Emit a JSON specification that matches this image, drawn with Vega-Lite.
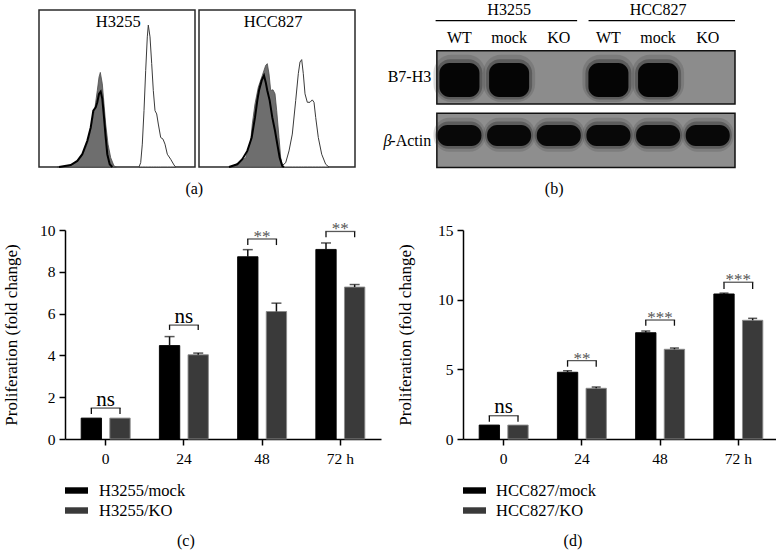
{
  "$schema": "https://vega.github.io/schema/vega-lite/v6.json",
  "autosize": {"type": "pad"},
  "padding": {"left": 1, "top": 2, "right": 0, "bottom": 0},
  "background": "white",
  "bounds": "flush",
  "spacing": 220,
  "datasets": {
    "hist": [
      {"cell":"H3255","s":"WT","f":100,"n":0},{"cell":"H3255","s":"WT","f":101.7,"n":4.3},{"cell":"H3255","s":"WT","f":103.3,"n":22.7},{"cell":"H3255","s":"WT","f":105,"n":56},{"cell":"H3255","s":"WT","f":106.7,"n":96},{"cell":"H3255","s":"WT","f":108.3,"n":129.3},{"cell":"H3255","s":"WT","f":109.3,"n":141},{"cell":"H3255","s":"WT","f":111,"n":129.3},{"cell":"H3255","s":"WT","f":112.7,"n":102.7},{"cell":"H3255","s":"WT","f":114.3,"n":76},{"cell":"H3255","s":"WT","f":116,"n":56},{"cell":"H3255","s":"WT","f":117.7,"n":52.7},{"cell":"H3255","s":"WT","f":119.3,"n":42.7},{"cell":"H3255","s":"WT","f":121.7,"n":29.3},{"cell":"H3255","s":"WT","f":124,"n":27.7},{"cell":"H3255","s":"WT","f":126,"n":22.7},{"cell":"H3255","s":"WT","f":128.3,"n":12.7},{"cell":"H3255","s":"WT","f":131.7,"n":7.7},{"cell":"H3255","s":"WT","f":135,"n":2},{"cell":"H3255","s":"WT","f":136.7,"n":0},
      {"cell":"H3255","s":"iso","f":18,"n":0},{"cell":"H3255","s":"iso","f":30,"n":1},{"cell":"H3255","s":"iso","f":36.7,"n":4.3},{"cell":"H3255","s":"iso","f":41.7,"n":9.3},{"cell":"H3255","s":"iso","f":46.7,"n":19.3},{"cell":"H3255","s":"iso","f":50,"n":29.3},{"cell":"H3255","s":"iso","f":53.3,"n":46},{"cell":"H3255","s":"iso","f":56,"n":59.3},{"cell":"H3255","s":"iso","f":58.3,"n":76},{"cell":"H3255","s":"iso","f":60,"n":89.3},{"cell":"H3255","s":"iso","f":61.3,"n":94},{"cell":"H3255","s":"iso","f":63.3,"n":82.7},{"cell":"H3255","s":"iso","f":65,"n":62.7},{"cell":"H3255","s":"iso","f":66.7,"n":42.7},{"cell":"H3255","s":"iso","f":69,"n":22.7},{"cell":"H3255","s":"iso","f":71.7,"n":9.3},{"cell":"H3255","s":"iso","f":75,"n":1},{"cell":"H3255","s":"iso","f":77.3,"n":0},
      {"cell":"H3255","s":"KO","f":20,"n":0},{"cell":"H3255","s":"KO","f":31.7,"n":2},{"cell":"H3255","s":"KO","f":38.3,"n":6},{"cell":"H3255","s":"KO","f":43.3,"n":12.7},{"cell":"H3255","s":"KO","f":48.3,"n":26},{"cell":"H3255","s":"KO","f":51.7,"n":39.3},{"cell":"H3255","s":"KO","f":54.3,"n":56},{"cell":"H3255","s":"KO","f":56.7,"n":59.3},{"cell":"H3255","s":"KO","f":58.3,"n":64.3},{"cell":"H3255","s":"KO","f":60,"n":72.7},{"cell":"H3255","s":"KO","f":61.7,"n":75},{"cell":"H3255","s":"KO","f":63.3,"n":67.7},{"cell":"H3255","s":"KO","f":65,"n":49.3},{"cell":"H3255","s":"KO","f":66.7,"n":29.3},{"cell":"H3255","s":"KO","f":68.3,"n":12.7},{"cell":"H3255","s":"KO","f":70.7,"n":2.7},{"cell":"H3255","s":"KO","f":73.3,"n":0},
      {"cell":"HCC827","s":"WT","f":81.7,"n":0},{"cell":"HCC827","s":"WT","f":86.7,"n":4.3},{"cell":"HCC827","s":"WT","f":90,"n":16},{"cell":"HCC827","s":"WT","f":93.3,"n":32.7},{"cell":"HCC827","s":"WT","f":96.7,"n":66},{"cell":"HCC827","s":"WT","f":99.3,"n":92.7},{"cell":"HCC827","s":"WT","f":101,"n":104.3},{"cell":"HCC827","s":"WT","f":102.7,"n":106.7},{"cell":"HCC827","s":"WT","f":104.3,"n":92.7},{"cell":"HCC827","s":"WT","f":106,"n":72.7},{"cell":"HCC827","s":"WT","f":108.3,"n":64.3},{"cell":"HCC827","s":"WT","f":111,"n":64.3},{"cell":"HCC827","s":"WT","f":113.3,"n":66.7},{"cell":"HCC827","s":"WT","f":115,"n":64.3},{"cell":"HCC827","s":"WT","f":116.7,"n":49.3},{"cell":"HCC827","s":"WT","f":119.3,"n":29.3},{"cell":"HCC827","s":"WT","f":122.7,"n":12.7},{"cell":"HCC827","s":"WT","f":126.7,"n":2.7},{"cell":"HCC827","s":"WT","f":130,"n":0},
      {"cell":"HCC827","s":"iso","f":31.7,"n":0},{"cell":"HCC827","s":"iso","f":40,"n":4.3},{"cell":"HCC827","s":"iso","f":46.7,"n":9.3},{"cell":"HCC827","s":"iso","f":51.7,"n":26},{"cell":"HCC827","s":"iso","f":53.3,"n":42.7},{"cell":"HCC827","s":"iso","f":56,"n":62.7},{"cell":"HCC827","s":"iso","f":59.3,"n":79.3},{"cell":"HCC827","s":"iso","f":63.3,"n":91},{"cell":"HCC827","s":"iso","f":66.7,"n":101},{"cell":"HCC827","s":"iso","f":68.3,"n":102.7},{"cell":"HCC827","s":"iso","f":70,"n":92.7},{"cell":"HCC827","s":"iso","f":71.7,"n":76},{"cell":"HCC827","s":"iso","f":74,"n":76.7},{"cell":"HCC827","s":"iso","f":76,"n":72.7},{"cell":"HCC827","s":"iso","f":77.7,"n":56},{"cell":"HCC827","s":"iso","f":80,"n":29.3},{"cell":"HCC827","s":"iso","f":81.7,"n":9.3},{"cell":"HCC827","s":"iso","f":83.3,"n":2},{"cell":"HCC827","s":"iso","f":85,"n":0},
      {"cell":"HCC827","s":"KO","f":30,"n":0},{"cell":"HCC827","s":"KO","f":38.3,"n":2.7},{"cell":"HCC827","s":"KO","f":43.3,"n":7.7},{"cell":"HCC827","s":"KO","f":48.3,"n":16},{"cell":"HCC827","s":"KO","f":52.7,"n":29.3},{"cell":"HCC827","s":"KO","f":56,"n":49.3},{"cell":"HCC827","s":"KO","f":58.3,"n":66},{"cell":"HCC827","s":"KO","f":60,"n":76},{"cell":"HCC827","s":"KO","f":62.7,"n":86},{"cell":"HCC827","s":"KO","f":65,"n":91},{"cell":"HCC827","s":"KO","f":66.7,"n":84.3},{"cell":"HCC827","s":"KO","f":68.3,"n":76},{"cell":"HCC827","s":"KO","f":70.7,"n":66},{"cell":"HCC827","s":"KO","f":73.3,"n":49.3},{"cell":"HCC827","s":"KO","f":76,"n":36},{"cell":"HCC827","s":"KO","f":78.3,"n":22.7},{"cell":"HCC827","s":"KO","f":80.7,"n":9.3},{"cell":"HCC827","s":"KO","f":83.3,"n":1},{"cell":"HCC827","s":"KO","f":85,"n":0}
    ],
    "lanes": [
      {"lane":1,"cell":"H3255","sample":"WT","b7h3":1,"actin":1},
      {"lane":2,"cell":"H3255","sample":"mock","b7h3":1,"actin":1},
      {"lane":3,"cell":"H3255","sample":"KO","b7h3":0,"actin":1},
      {"lane":4,"cell":"HCC827","sample":"WT","b7h3":1,"actin":1},
      {"lane":5,"cell":"HCC827","sample":"mock","b7h3":1,"actin":1},
      {"lane":6,"cell":"HCC827","sample":"KO","b7h3":0,"actin":1}
    ],
    "c": [
      {"time":"0","group":"H3255/mock","value":1.0,"upper":1.0,"btop":1.48,"bbot":1.2,"sig":"ns"},
      {"time":"0","group":"H3255/KO","value":1.0,"upper":1.0,"btop":1.48,"bbot":1.2,"sig":"ns"},
      {"time":"24","group":"H3255/mock","value":4.47,"upper":4.9,"btop":5.45,"bbot":5.22,"sig":"ns"},
      {"time":"24","group":"H3255/KO","value":4.03,"upper":4.11,"btop":5.45,"bbot":5.22,"sig":"ns"},
      {"time":"48","group":"H3255/mock","value":8.72,"upper":9.06,"btop":9.57,"bbot":9.28,"sig":"**"},
      {"time":"48","group":"H3255/KO","value":6.1,"upper":6.5,"btop":9.57,"bbot":9.28,"sig":"**"},
      {"time":"72 h","group":"H3255/mock","value":9.07,"upper":9.38,"btop":9.93,"bbot":9.65,"sig":"**"},
      {"time":"72 h","group":"H3255/KO","value":7.27,"upper":7.39,"btop":9.93,"bbot":9.65,"sig":"**"}
    ],
    "d": [
      {"time":"0","group":"HCC827/mock","value":1.0,"upper":1.0,"btop":1.67,"bbot":1.24,"sig":"ns"},
      {"time":"0","group":"HCC827/KO","value":1.0,"upper":1.0,"btop":1.67,"bbot":1.24,"sig":"ns"},
      {"time":"24","group":"HCC827/mock","value":4.79,"upper":4.9,"btop":5.62,"bbot":5.19,"sig":"**"},
      {"time":"24","group":"HCC827/KO","value":3.64,"upper":3.73,"btop":5.62,"bbot":5.19,"sig":"**"},
      {"time":"48","group":"HCC827/mock","value":7.63,"upper":7.75,"btop":8.54,"bbot":8.13,"sig":"***"},
      {"time":"48","group":"HCC827/KO","value":6.44,"upper":6.53,"btop":8.54,"bbot":8.13,"sig":"***"},
      {"time":"72 h","group":"HCC827/mock","value":10.41,"upper":10.47,"btop":11.25,"bbot":10.77,"sig":"***"},
      {"time":"72 h","group":"HCC827/KO","value":8.52,"upper":8.66,"btop":11.25,"bbot":10.77,"sig":"***"}
    ]
  },
  "vconcat": [
    {
      "hconcat": [
        {
          "width": 156, "height": 157,
          "view": {"stroke": "#2a2a2a", "strokeWidth": 1.5},
          "data": {"name": "hist"},
          "layer": [
            {"transform": [{"filter": "datum.cell == 'H3255' && datum.s == 'WT'"}], "mark": {"type": "area", "fill": "white", "stroke": "#3a3a3a", "strokeWidth": 1},
             "encoding": {"x": {"field": "f", "type": "quantitative", "scale": {"domain": [0, 156], "nice": false, "zero": false}, "axis": null},
                          "y": {"field": "n", "type": "quantitative", "scale": {"domain": [0, 156], "nice": false}, "axis": null}}},
            {"transform": [{"filter": "datum.cell == 'H3255' && datum.s == 'iso'"}], "mark": {"type": "area", "fill": "#6e6e6e", "stroke": "#4a4a4a", "strokeWidth": 0.8},
             "encoding": {"x": {"field": "f", "type": "quantitative"}, "y": {"field": "n", "type": "quantitative"}}},
            {"transform": [{"filter": "datum.cell == 'H3255' && datum.s == 'KO'"}], "mark": {"type": "line", "color": "#000", "strokeWidth": 2},
             "encoding": {"x": {"field": "f", "type": "quantitative"}, "y": {"field": "n", "type": "quantitative"}}},
            {"data": {"values": [{"label": "H3255"}]}, "mark": {"type": "text", "fontSize": 16.5, "baseline": "alphabetic", "align": "center"},
             "encoding": {"x": {"datum": 79.2, "type": "quantitative"}, "y": {"datum": 139.4, "type": "quantitative"}, "text": {"field": "label"}}},
            {"data": {"values": [{"label": "(a)"}]}, "mark": {"type": "text", "fontSize": 16, "baseline": "alphabetic", "align": "center"},
             "encoding": {"x": {"datum": 155.3, "type": "quantitative"}, "y": {"datum": -27.3, "type": "quantitative"}, "text": {"field": "label"}}}
          ]
        },
        {
          "width": 156, "height": 157,
          "view": {"stroke": "#2a2a2a", "strokeWidth": 1.5},
          "data": {"name": "hist"},
          "layer": [
            {"transform": [{"filter": "datum.cell == 'HCC827' && datum.s == 'WT'"}], "mark": {"type": "area", "fill": "white", "stroke": "#3a3a3a", "strokeWidth": 1},
             "encoding": {"x": {"field": "f", "type": "quantitative", "scale": {"domain": [0, 156], "nice": false, "zero": false}, "axis": null},
                          "y": {"field": "n", "type": "quantitative", "scale": {"domain": [0, 156], "nice": false}, "axis": null}}},
            {"transform": [{"filter": "datum.cell == 'HCC827' && datum.s == 'iso'"}], "mark": {"type": "area", "fill": "#6e6e6e", "stroke": "#4a4a4a", "strokeWidth": 0.8},
             "encoding": {"x": {"field": "f", "type": "quantitative"}, "y": {"field": "n", "type": "quantitative"}}},
            {"transform": [{"filter": "datum.cell == 'HCC827' && datum.s == 'KO'"}], "mark": {"type": "line", "color": "#000", "strokeWidth": 2},
             "encoding": {"x": {"field": "f", "type": "quantitative"}, "y": {"field": "n", "type": "quantitative"}}},
            {"data": {"values": [{"label": "HCC827"}]}, "mark": {"type": "text", "fontSize": 16.5, "baseline": "alphabetic", "align": "center"},
             "encoding": {"x": {"datum": 74.2, "type": "quantitative"}, "y": {"datum": 139.4, "type": "quantitative"}, "text": {"field": "label"}}}
          ]
        },
        {
          "width": 381, "height": 157,
          "data": {"name": "lanes"},
          "layer": [
            {"data": {"values": [{"blot": "B7-H3"}]}, "mark": {"type": "rect", "fill": "#8c8c8c", "stroke": "#111", "strokeWidth": 1.5},
             "encoding": {"x": {"datum": 0.545, "type": "quantitative", "scale": {"domain": [-0.922, 6.549], "nice": false, "zero": false}, "axis": null}, "x2": {"datum": 6.549},
                          "y": {"datum": 0.575, "type": "quantitative", "scale": {"domain": [-0.0714, 2.4206], "nice": false, "zero": false, "reverse": true}, "axis": null}, "y2": {"datum": 1.421}}},
            {"data": {"values": [{"blot": "actin"}]}, "mark": {"type": "rect", "fill": "#8e8e8e", "stroke": "#111", "strokeWidth": 1.5},
             "encoding": {"x": {"datum": 0.545, "type": "quantitative"}, "x2": {"datum": 6.549}, "y": {"datum": 1.568, "type": "quantitative"}, "y2": {"datum": 2.43}}},
            {"transform": [{"filter": "datum.b7h3 > 0"}], "mark": {"type": "bar", "width": 52, "cornerRadius": 18, "fill": "#333", "opacity": 0.18},
             "encoding": {"x": {"field": "lane", "type": "quantitative"}, "y": {"datum": 0.64, "type": "quantitative"}, "y2": {"datum": 1.39}}},
            {"transform": [{"filter": "datum.b7h3 > 0"}], "mark": {"type": "bar", "width": 46, "cornerRadius": 14, "fill": "#222", "opacity": 0.35},
             "encoding": {"x": {"field": "lane", "type": "quantitative"}, "y": {"datum": 0.71, "type": "quantitative"}, "y2": {"datum": 1.35}}},
            {"transform": [{"filter": "datum.b7h3 > 0"}], "mark": {"type": "bar", "width": 40, "cornerRadius": 10, "fill": "#050505"},
             "encoding": {"x": {"field": "lane", "type": "quantitative"}, "y": {"datum": 0.77, "type": "quantitative"}, "y2": {"datum": 1.31}}},
            {"transform": [{"filter": "datum.actin > 0"}], "mark": {"type": "bar", "width": 52, "cornerRadius": 16, "fill": "#333", "opacity": 0.18},
             "encoding": {"x": {"field": "lane", "type": "quantitative"}, "y": {"datum": 1.64, "type": "quantitative"}, "y2": {"datum": 2.18}}},
            {"transform": [{"filter": "datum.actin > 0"}], "mark": {"type": "bar", "width": 48, "cornerRadius": 13, "fill": "#222", "opacity": 0.35},
             "encoding": {"x": {"field": "lane", "type": "quantitative"}, "y": {"datum": 1.7, "type": "quantitative"}, "y2": {"datum": 2.13}}},
            {"transform": [{"filter": "datum.actin > 0"}], "mark": {"type": "bar", "width": 44, "cornerRadius": 10, "fill": "#080808"},
             "encoding": {"x": {"field": "lane", "type": "quantitative"}, "y": {"datum": 1.754, "type": "quantitative"}, "y2": {"datum": 2.087}}},
            {"mark": {"type": "text", "fontSize": 16, "baseline": "alphabetic", "align": "center"},
             "encoding": {"x": {"field": "lane", "type": "quantitative"}, "y": {"datum": 0.457, "type": "quantitative"}, "text": {"field": "sample"}}},
            {"transform": [{"filter": "datum.sample == 'mock'"}], "mark": {"type": "text", "fontSize": 16, "baseline": "alphabetic", "align": "center"},
             "encoding": {"x": {"field": "lane", "type": "quantitative"}, "y": {"datum": 0.011, "type": "quantitative"}, "text": {"field": "cell"}}},
            {"data": {"values": [{"cell": "H3255"}]}, "mark": {"type": "rule", "color": "#000", "strokeWidth": 1.2},
             "encoding": {"x": {"datum": 0.52, "type": "quantitative"}, "x2": {"datum": 3.37}, "y": {"datum": 0.0984, "type": "quantitative"}}},
            {"data": {"values": [{"cell": "HCC827"}]}, "mark": {"type": "rule", "color": "#000", "strokeWidth": 1.2},
             "encoding": {"x": {"datum": 3.6, "type": "quantitative"}, "x2": {"datum": 6.549}, "y": {"datum": 0.0984, "type": "quantitative"}}},
            {"data": {"values": [{"label": "B7-H3"}]}, "mark": {"type": "text", "fontSize": 16, "baseline": "alphabetic", "align": "right"},
             "encoding": {"x": {"datum": 0.431, "type": "quantitative"}, "y": {"datum": 1.067, "type": "quantitative"}, "text": {"field": "label"}}},
            {"data": {"values": [{"label": "-Actin"}]}, "mark": {"type": "text", "fontSize": 16, "baseline": "alphabetic", "align": "right"},
             "encoding": {"x": {"datum": 0.431, "type": "quantitative"}, "y": {"datum": 2.087, "type": "quantitative"}, "text": {"field": "label"}}},
            {"data": {"values": [{"label": "β"}]}, "mark": {"type": "text", "fontSize": 16, "fontStyle": "italic", "baseline": "alphabetic", "align": "right"},
             "encoding": {"x": {"datum": -0.371, "type": "quantitative"}, "y": {"datum": 2.087, "type": "quantitative"}, "text": {"field": "label"}}},
            {"data": {"values": [{"label": "(b)"}]}, "mark": {"type": "text", "fontSize": 16, "baseline": "alphabetic", "align": "center"},
             "encoding": {"x": {"datum": 2.908, "type": "quantitative"}, "y": {"datum": 2.857, "type": "quantitative"}, "text": {"field": "label"}}}
          ]
        }
      ],
      "spacing": 4,
      "bounds": "flush",
      "resolve": {"scale": {"x": "independent", "y": "independent"}}
    },
    {
      "hconcat": [
        {"width": 22, "height": 209, "data": {"values": [{}]}, "mark": {"type": "rule", "opacity": 0}, "encoding": {}},
        {
          "width": 316, "height": 209,
          "data": {"name": "c"},
          "layer": [
            {"mark": {"type": "bar", "strokeWidth": 0.9},
             "encoding": {
               "x": {"field": "time", "type": "nominal", "sort": null,
                     "scale": {"domain": ["0", "24", "48", "72 h"], "paddingInner": 0, "paddingOuter": 0.02},
                     "axis": {"title": null, "labelAngle": 0, "labelFontSize": 15.5, "tickSize": 6, "tickWidth": 1.5, "domainWidth": 1.5, "labelPadding": 6}},
               "xOffset": {"field": "group", "type": "nominal", "scale": {"domain": ["H3255/mock", "H3255/KO"], "paddingInner": 0.29, "paddingOuter": 0.51}},
               "y": {"field": "value", "type": "quantitative",
                     "scale": {"domain": [0, 10], "nice": false},
                     "axis": {"title": "Proliferation (fold change)", "values": [0, 2, 4, 6, 8, 10], "titleFontSize": 17, "titleFontWeight": "normal", "titleX": -45, "labelFontSize": 15.5, "tickSize": 6, "tickWidth": 1.5, "domainWidth": 1.5, "labelPadding": 4}},
               "color": {"field": "group", "type": "nominal", "scale": {"domain": ["H3255/mock", "H3255/KO"], "range": ["#000000", "#3a3a3a"]},
                         "legend": {"orient": "none", "legendX": 0, "legendY": 249, "title": null, "symbolType": "M-1,-0.28H1V0.28H-1Z", "symbolSize": 529, "symbolStrokeWidth": 0, "labelFontSize": 16.5, "labelOffset": 11, "rowPadding": -2, "padding": 0}},
               "stroke": {"field": "group", "type": "nominal", "scale": {"domain": ["H3255/mock", "H3255/KO"], "range": ["#000000", "#8a8a8a"]}, "legend": null}
             }},
            {"transform": [{"filter": "datum.upper > datum.value"}], "mark": {"type": "rule", "color": "#111", "strokeWidth": 1.5},
             "encoding": {"x": {"field": "time", "type": "nominal"}, "xOffset": {"field": "group", "type": "nominal"}, "y": {"field": "value", "type": "quantitative"}, "y2": {"field": "upper"}}},
            {"transform": [{"filter": "datum.upper > datum.value"}], "mark": {"type": "tick", "color": "#111", "size": 10, "thickness": 1.5},
             "encoding": {"x": {"field": "time", "type": "nominal"}, "xOffset": {"field": "group", "type": "nominal"}, "y": {"field": "upper", "type": "quantitative"}}},
            {"mark": {"type": "rule", "color": "#111", "strokeWidth": 1.3},
             "encoding": {"x": {"field": "time", "type": "nominal"}, "xOffset": {"field": "group", "type": "nominal"}, "y": {"field": "btop", "type": "quantitative"}, "y2": {"field": "bbot"}}},
            {"transform": [{"filter": "datum.group == 'H3255/mock'"}], "mark": {"type": "tick", "color": "#111", "size": 30, "thickness": 1.3},
             "encoding": {"x": {"field": "time", "type": "nominal"}, "y": {"field": "btop", "type": "quantitative"}}},
            {"transform": [{"filter": "datum.group == 'H3255/mock' && datum.sig == 'ns'"}], "mark": {"type": "text", "fontSize": 21, "baseline": "alphabetic", "dy": -2.5},
             "encoding": {"x": {"field": "time", "type": "nominal"}, "y": {"field": "btop", "type": "quantitative"}, "text": {"field": "sig"}}},
            {"transform": [{"filter": "datum.group == 'H3255/mock' && datum.sig != 'ns'"}], "mark": {"type": "text", "fontSize": 17, "baseline": "alphabetic", "dy": 3, "color": "#555"},
             "encoding": {"x": {"field": "time", "type": "nominal"}, "y": {"field": "btop", "type": "quantitative"}, "text": {"field": "sig"}}},
            {"data": {"values": [{"label": "(c)"}]}, "mark": {"type": "text", "fontSize": 16, "baseline": "alphabetic", "align": "center", "dx": 2},
             "encoding": {"x": {"datum": "24", "type": "nominal"}, "y": {"datum": -5.12, "type": "quantitative"}, "text": {"field": "label"}}}
          ]
        },
        {"width": 74, "height": 209, "data": {"values": [{}]}, "mark": {"type": "rule", "opacity": 0}, "encoding": {}},
        {
          "width": 316, "height": 209,
          "data": {"name": "d"},
          "layer": [
            {"mark": {"type": "bar", "strokeWidth": 0.9},
             "encoding": {
               "x": {"field": "time", "type": "nominal", "sort": null,
                     "scale": {"domain": ["0", "24", "48", "72 h"], "paddingInner": 0, "paddingOuter": 0.02},
                     "axis": {"title": null, "labelAngle": 0, "labelFontSize": 15.5, "tickSize": 6, "tickWidth": 1.5, "domainWidth": 1.5, "labelPadding": 6}},
               "xOffset": {"field": "group", "type": "nominal", "scale": {"domain": ["HCC827/mock", "HCC827/KO"], "paddingInner": 0.29, "paddingOuter": 0.51}},
               "y": {"field": "value", "type": "quantitative",
                     "scale": {"domain": [0, 15], "nice": false},
                     "axis": {"title": "Proliferation (fold change)", "values": [0, 5, 10, 15], "titleFontSize": 17, "titleFontWeight": "normal", "titleX": -49, "labelFontSize": 15.5, "tickSize": 6, "tickWidth": 1.5, "domainWidth": 1.5, "labelPadding": 4}},
               "color": {"field": "group", "type": "nominal", "scale": {"domain": ["HCC827/mock", "HCC827/KO"], "range": ["#000000", "#3a3a3a"]},
                         "legend": {"orient": "none", "legendX": 0, "legendY": 249, "title": null, "symbolType": "M-1,-0.28H1V0.28H-1Z", "symbolSize": 529, "symbolStrokeWidth": 0, "labelFontSize": 16.5, "labelOffset": 10, "rowPadding": -2, "padding": 0}},
               "stroke": {"field": "group", "type": "nominal", "scale": {"domain": ["HCC827/mock", "HCC827/KO"], "range": ["#000000", "#8a8a8a"]}, "legend": null}
             }},
            {"transform": [{"filter": "datum.upper > datum.value"}], "mark": {"type": "rule", "color": "#111", "strokeWidth": 1.5},
             "encoding": {"x": {"field": "time", "type": "nominal"}, "xOffset": {"field": "group", "type": "nominal"}, "y": {"field": "value", "type": "quantitative"}, "y2": {"field": "upper"}}},
            {"transform": [{"filter": "datum.upper > datum.value"}], "mark": {"type": "tick", "color": "#111", "size": 9, "thickness": 1.5},
             "encoding": {"x": {"field": "time", "type": "nominal"}, "xOffset": {"field": "group", "type": "nominal"}, "y": {"field": "upper", "type": "quantitative"}}},
            {"mark": {"type": "rule", "color": "#111", "strokeWidth": 1.3},
             "encoding": {"x": {"field": "time", "type": "nominal"}, "xOffset": {"field": "group", "type": "nominal"}, "y": {"field": "btop", "type": "quantitative"}, "y2": {"field": "bbot"}}},
            {"transform": [{"filter": "datum.group == 'HCC827/mock'"}], "mark": {"type": "tick", "color": "#111", "size": 30, "thickness": 1.3},
             "encoding": {"x": {"field": "time", "type": "nominal"}, "y": {"field": "btop", "type": "quantitative"}}},
            {"transform": [{"filter": "datum.group == 'HCC827/mock' && datum.sig == 'ns'"}], "mark": {"type": "text", "fontSize": 21, "baseline": "alphabetic", "dy": -2.5},
             "encoding": {"x": {"field": "time", "type": "nominal"}, "y": {"field": "btop", "type": "quantitative"}, "text": {"field": "sig"}}},
            {"transform": [{"filter": "datum.group == 'HCC827/mock' && datum.sig != 'ns'"}], "mark": {"type": "text", "fontSize": 17, "baseline": "alphabetic", "dy": 3, "color": "#555"},
             "encoding": {"x": {"field": "time", "type": "nominal"}, "y": {"field": "btop", "type": "quantitative"}, "text": {"field": "sig"}}},
            {"data": {"values": [{"label": "(d)"}]}, "mark": {"type": "text", "fontSize": 16, "baseline": "alphabetic", "align": "center", "dx": -9},
             "encoding": {"x": {"datum": "24", "type": "nominal"}, "y": {"datum": -7.68, "type": "quantitative"}, "text": {"field": "label"}}}
          ]
        }
      ],
      "spacing": 4,
      "bounds": "flush",
      "resolve": {
        "scale": {"x": "independent", "y": "independent", "color": "independent", "stroke": "independent", "xOffset": "independent"},
        "legend": {"color": "independent"}
      }
    }
  ],
  "resolve": {
    "scale": {"x": "independent", "y": "independent", "color": "independent", "stroke": "independent", "xOffset": "independent"},
    "legend": {"color": "independent"}
  },
  "config": {
    "font": "Liberation Serif",
    "view": {"stroke": null},
    "axis": {"labelColor": "#000", "titleColor": "#000", "domainColor": "#000", "tickColor": "#000", "grid": false},
    "legend": {"labelColor": "#000"},
    "text": {"color": "#000"}
  }
}
